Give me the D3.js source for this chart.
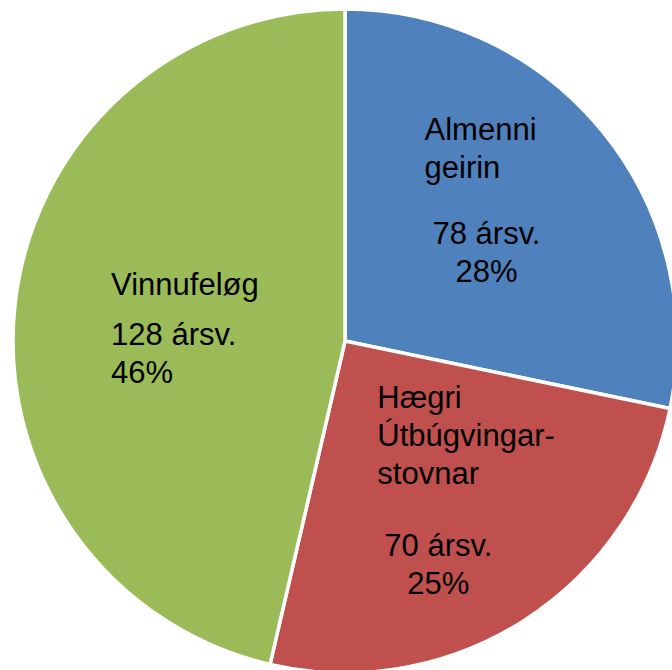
<!DOCTYPE html>
<html>
<head>
<meta charset="utf-8">
<script src="https://cdn.jsdelivr.net/npm/d3@7"></script>
<style>
  html, body { margin: 0; padding: 0; background: #fff; }
  svg { display: block; }
  text { font-family: "Liberation Sans", Arial, sans-serif; font-size: 31px; fill: #000; }
</style>
</head>
<body>
<div id="chart"></div>
<script>
// data
var categories = ["Almenni geirin", "Hægri Útbúgvingar-stovnar", "Vinnufeløg"];
var nameLines = [["Almenni", "geirin"], ["Hægri", "Útbúgvingar-", "stovnar"], ["Vinnufeløg"]];
var values = [78, 70, 128];
var unit = "ársv.";
var colors = ["#4F81BD", "#C0504D", "#9BBB59"];

var width = 672, height = 670;
var cx = 345, cy = 341, radius = 332;
var lineH = 38;

// label placement relative to slice centroid (at 0.6 r)
var nameOffset = [[-75, -75], [-75, -101], [-36, -23]];
var valueOffset = [[-13, 29], [-14, 47], [-36, 27]];
var valueAnchor = ["middle", "middle", "start"];

var svg = d3.select("#chart").append("svg")
  .attr("width", width).attr("height", height);

var g = svg.append("g").attr("transform", "translate(" + cx + "," + cy + ")");

var pie = d3.pie().sort(null).value(function (d) { return d; });
var arcs = pie(values);
var total = d3.sum(values);

var arc = d3.arc().innerRadius(0).outerRadius(radius);
var labelArc = d3.arc().innerRadius(radius * 0.6).outerRadius(radius * 0.6);

g.selectAll("path")
  .data(arcs)
  .enter()
  .append("path")
  .attr("d", arc)
  .attr("fill", function (d, i) { return colors[i]; })
  .attr("stroke", "#fff")
  .attr("stroke-width", 3.5)
  .attr("stroke-linejoin", "round");

arcs.forEach(function (d, i) {
  var c = labelArc.centroid(d);
  var nx = c[0] + nameOffset[i][0], ny = c[1] + nameOffset[i][1];
  nameLines[i].forEach(function (line, j) {
    g.append("text").attr("x", nx).attr("y", ny + j * lineH).text(line);
  });
  var vx = c[0] + valueOffset[i][0], vy = c[1] + valueOffset[i][1];
  var pct = Math.round(values[i] / total * 100) + "%";
  [values[i] + " " + unit, pct].forEach(function (line, j) {
    g.append("text")
      .attr("x", vx).attr("y", vy + j * lineH)
      .attr("text-anchor", valueAnchor[i])
      .text(line);
  });
});
</script>
</body>
</html>
